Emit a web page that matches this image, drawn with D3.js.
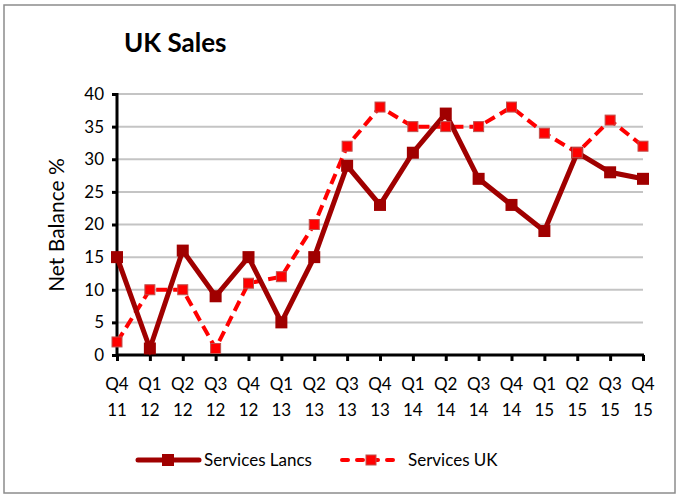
<!DOCTYPE html>
<html>
<head>
<meta charset="utf-8">
<script src="https://cdn.jsdelivr.net/npm/d3@7"></script>
<style>
body { margin: 0; background: #fff; }
svg text { font-family: Lato, "Open Sans", sans-serif; fill: #000; }
</style>
</head>
<body>
<svg id="svg" width="678" height="496"></svg>
<script>
var quarters = ["Q4","Q1","Q2","Q3","Q4","Q1","Q2","Q3","Q4","Q1","Q2","Q3","Q4","Q1","Q2","Q3","Q4"];
var years = ["11","12","12","12","12","13","13","13","13","14","14","14","14","15","15","15","15"];
var lancs = [15,1,16,9,15,5,15,29,23,31,37,27,23,19,31,28,27];
var uk = [2,10,10,1,11,12,20,32,38,35,35,35,38,34,31,36,32];
var yTicks = [0,5,10,15,20,25,30,35,40];

var svg = d3.select("#svg");

// outer border
svg.append("rect")
.attr("x", 4).attr("y", 5)
.attr("width", 671).attr("height", 488)
.style("fill", "#fff")
.style("stroke", "#8c8c8c")
.style("stroke-width", 1.5);

var pLeft = 117, pRight = 643, pTop = 94, pBottom = 355;
var idx = d3.range(lancs.length);

var x = d3.scaleLinear().domain([0, lancs.length - 1]).range([pLeft, pRight]);
var y = d3.scaleLinear().domain([0, 40]).range([pBottom, pTop]);

// gridlines
svg.append("g").selectAll("line")
.data(yTicks.filter(function(d){ return d > 0; }))
.enter().append("line")
.attr("x1", pLeft).attr("x2", pRight)
.attr("y1", function(d){ return y(d); })
.attr("y2", function(d){ return y(d); })
.style("stroke", "#c4c4c4")
.style("stroke-width", 2);

// y axis
var yAxis = svg.append("g")
.attr("transform", "translate(" + pLeft + ",0)")
.call(d3.axisLeft(y).tickValues(yTicks).tickSize(5).tickPadding(8));
yAxis.select(".domain").style("stroke", "#000").style("stroke-width", 3)
.attr("d", "M0," + (pTop - 1) + "V" + pBottom);
yAxis.selectAll(".tick line").style("stroke", "#000").style("stroke-width", 3);
yAxis.selectAll("text").style("font-size", "17px").style("font-family", "Lato");

// x axis
var xAxis = svg.append("g")
.attr("transform", "translate(0," + pBottom + ")")
.call(d3.axisBottom(x).tickValues(idx).tickSize(6).tickFormat(""));
xAxis.select(".domain").style("stroke", "#000").style("stroke-width", 3)
.attr("d", "M" + pLeft + ",0H" + (pRight + 1));
xAxis.selectAll(".tick line").style("stroke", "#000").style("stroke-width", 3);

var labels = svg.append("g");
labels.selectAll("text.q")
.data(idx).enter().append("text")
.attr("x", function(d){ return x(d); })
.attr("y", 390)
.attr("text-anchor", "middle")
.style("font-size", "17px")
.text(function(d){ return quarters[d]; });
labels.selectAll("text.yr")
.data(idx).enter().append("text")
.attr("x", function(d){ return x(d); })
.attr("y", 416)
.attr("text-anchor", "middle")
.style("font-size", "17px")
.text(function(d){ return years[d]; });

// y label
svg.append("text")
.attr("transform", "translate(64,225) rotate(-90)")
.attr("text-anchor", "middle")
.style("font-size", "21px")
.text("Net Balance %");

// title
svg.append("text")
.attr("x", 124).attr("y", 52)
.style("font-size", "26px")
.style("font-weight", "bold")
.text("UK Sales");

var line = d3.line()
.x(function(d, i){ return x(i); })
.y(function(d){ return y(d); });

// UK series
svg.append("path")
.datum(uk)
.attr("d", line)
.style("fill", "none")
.style("stroke", "#ff0000")
.style("stroke-width", 4)
.style("stroke-dasharray", "11,6");

// Lancs series
svg.append("path")
.datum(lancs)
.attr("d", line)
.style("fill", "none")
.style("stroke", "#a00000")
.style("stroke-width", 5)
.style("stroke-linejoin", "miter");

svg.append("g").selectAll("rect")
.data(lancs).enter().append("rect")
.attr("x", function(d, i){ return x(i) - 6; })
.attr("y", function(d){ return y(d) - 6; })
.attr("width", 12).attr("height", 12)
.style("fill", "#a00000");

svg.append("g").selectAll("rect")
.data(uk).enter().append("rect")
.attr("x", function(d, i){ return x(i) - 5; })
.attr("y", function(d){ return y(d) - 5; })
.attr("width", 10).attr("height", 10)
.style("fill", "#ff0000")
.style("stroke", "#c0504d")
.style("stroke-width", 1);

// legend
var leg = svg.append("g");
leg.append("line")
.attr("x1", 138).attr("x2", 199).attr("y1", 460).attr("y2", 460)
.style("stroke", "#a00000").style("stroke-width", 5).style("stroke-linecap", "round");
leg.append("rect")
.attr("x", 162).attr("y", 454).attr("width", 12).attr("height", 12)
.style("fill", "#a00000");
leg.append("text")
.attr("x", 204).attr("y", 466)
.style("font-size", "17px")
.text("Services Lancs");

leg.append("line")
.attr("x1", 342).attr("x2", 401).attr("y1", 460).attr("y2", 460)
.style("stroke", "#ff0000").style("stroke-width", 4).style("stroke-linecap", "round")
.style("stroke-dasharray", "6,9");
leg.append("rect")
.attr("x", 366).attr("y", 455).attr("width", 10).attr("height", 10)
.style("fill", "#ff0000").style("stroke", "#c0504d").style("stroke-width", 1);
leg.append("text")
.attr("x", 408).attr("y", 466)
.style("font-size", "17px")
.text("Services UK");
</script>
</body>
</html>
